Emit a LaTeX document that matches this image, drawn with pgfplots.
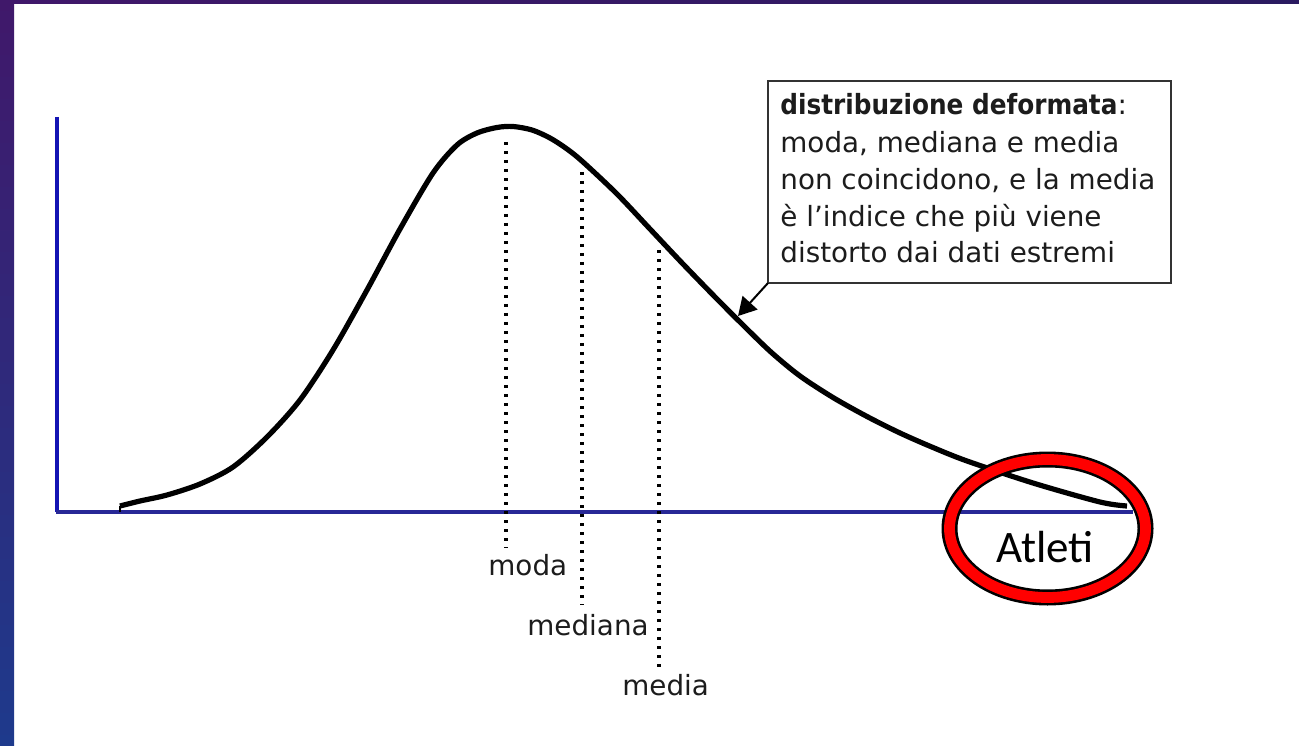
\documentclass[border=0pt]{standalone}
\usepackage{pgfplots}
\pgfplotsset{compat=1.18}
\usepackage{fontspec}
\setmainfont{DejaVu Sans}
\newfontfamily\calibri{Carlito}
\usetikzlibrary{arrows.meta}
\definecolor{bgpurple}{HTML}{40186A}
\definecolor{bgblue}{HTML}{1E3A8C}
\definecolor{bgtopright}{HTML}{2A1A60}
\definecolor{yaxisblue}{HTML}{1414B4}
\definecolor{xaxisblue}{HTML}{282896}
\definecolor{txt}{HTML}{1C1C1C}
\definecolor{ringred}{HTML}{FF0000}

\pgfplotstableread{
x y
63 6
83 11
110 17
143 28
176 45
210 75
243 112
276 162
310 222
343 283
376 339
400 367
420 379
440 384.5
456 385.5
475 382
493 374
510 363
526 350
560 318
593 283
626 248
660 213
690 183
715 159
743 136
776 114.5
810 95.5
843 79
876 64.5
910 51
976 29
1043 10
1070 6
}\curve

\begin{document}
\begin{tikzpicture}
\begin{axis}[
  scale only axis,
  width=649.5pt, height=372.5pt,
  xmin=-57, xmax=1242, ymin=-233, ymax=512,
  hide axis, clip=false,
]
% background
\fill[white] (axis cs:-57,-233) rectangle (axis cs:1242,512);
\shade[top color=bgpurple, bottom color=bgblue] (axis cs:-57,-233) rectangle (axis cs:-43,512);
\shade[left color=bgpurple, right color=bgtopright] (axis cs:-57,508) rectangle (axis cs:1242,512);

% axes lines
\draw[yaxisblue, line width=2pt] (axis cs:0,395) -- (axis cs:0,0);
\draw[xaxisblue, line width=2pt] (axis cs:-1,0) -- (axis cs:1076,0);

% reference dotted lines
\addplot[black, line width=1.7pt, dash pattern=on 1.7pt off 2.8pt, forget plot] coordinates {(449,370) (449,-36)};
\addplot[black, line width=1.7pt, dash pattern=on 1.7pt off 2.8pt, forget plot] coordinates {(525,340) (525,-93)};
\addplot[black, line width=1.7pt, dash pattern=on 1.7pt off 2.8pt, forget plot] coordinates {(602,262) (602,-158)};

% curve
\draw[black, line width=1pt] (axis cs:63,0) -- (axis cs:63,6);
\addplot[black, line width=2.6pt, smooth, forget plot] table {\curve};

% labels
\node[anchor=base west, text=txt, font=\fontsize{13.9}{16}\selectfont, inner sep=0pt] at (axis cs:431,-63) {moda};
\node[anchor=base west, text=txt, font=\fontsize{13.9}{16}\selectfont, inner sep=0pt] at (axis cs:470,-123) {mediana};
\node[anchor=base west, text=txt, font=\fontsize{13.9}{16}\selectfont, inner sep=0pt] at (axis cs:565,-183) {media};

% annotation box
\filldraw[fill=white, draw=black!80, line width=1pt] (axis cs:711,431) rectangle (axis cs:1114,229);
\draw[black, line width=1pt, -{Triangle[length=9pt, width=10pt]}] (axis cs:711,229) -- (axis cs:681,196);
\node[anchor=base west, text=txt, font=\fontsize{13.9}{16}\selectfont, inner sep=0pt] at (axis cs:723,397) {\scalebox{0.89}[1]{\bfseries distribuzione deformata}:};
\node[anchor=base west, text=txt, font=\fontsize{13.9}{16}\selectfont, inner sep=0pt] at (axis cs:723,359) {moda, mediana e media};
\node[anchor=base west, text=txt, font=\fontsize{13.9}{16}\selectfont, inner sep=0pt] at (axis cs:723,322) {non coincidono, e la media};
\node[anchor=base west, text=txt, font=\fontsize{13.9}{16}\selectfont, inner sep=0pt] at (axis cs:723,285) {è l'indice che più viene};
\node[anchor=base west, text=txt, font=\fontsize{13.9}{16}\selectfont, inner sep=0pt] at (axis cs:723,249) {distorto dai dati estremi};

% highlight ring
\draw[black, line width=8pt] (axis cs:990.5,-16.5) ellipse [x radius=49pt, y radius=34.5pt];
\draw[ringred, line width=5.4pt] (axis cs:990.5,-16.5) ellipse [x radius=49pt, y radius=34.5pt];
\node[anchor=base, inner sep=0pt, font=\calibri\fontsize{22.5}{26}\selectfont] at (axis cs:988,-50) {Atleti};
\end{axis}
\end{tikzpicture}
\end{document}
